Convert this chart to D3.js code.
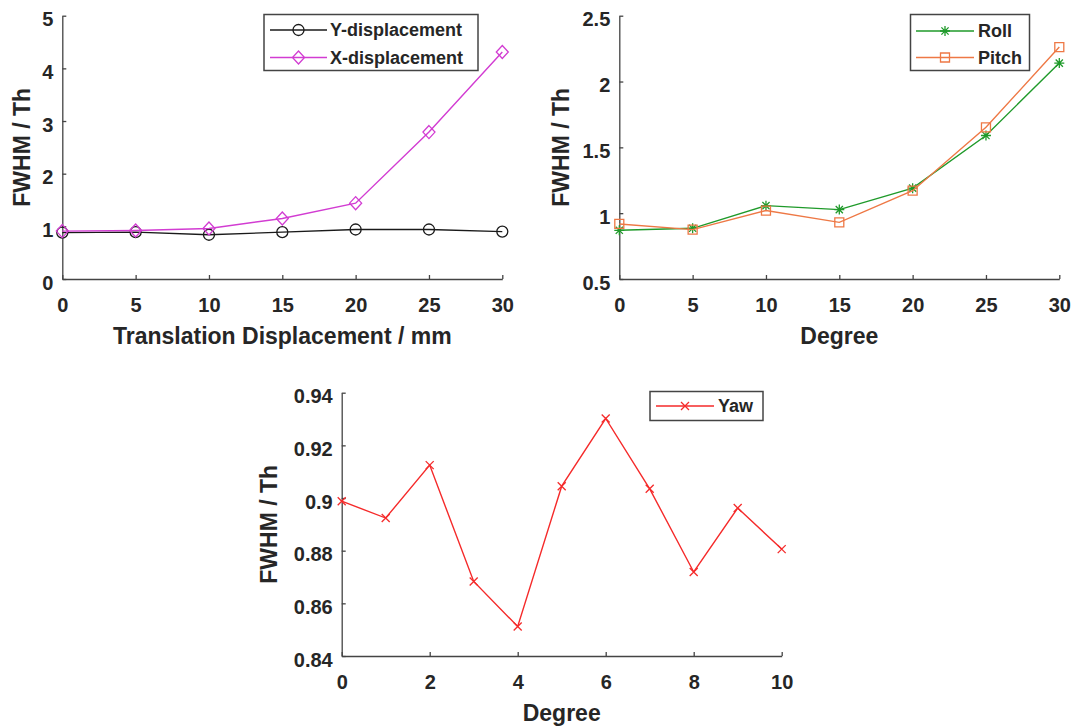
<!DOCTYPE html>
<html>
<head>
<meta charset="utf-8">
<script src="https://cdn.jsdelivr.net/npm/d3@7"></script>
<style>
  html, body { margin: 0; padding: 0; background: #ffffff; }
  svg { display: block; }
  text { font-family: "Liberation Sans", Arial, Helvetica, sans-serif; font-weight: bold; fill: #262626; }
</style>
</head>
<body>
<svg id="chart" width="1073" height="728"></svg>
<script>
// ---------------- Data ----------------
const translationMM = [0, 5, 10, 15, 20, 25, 30];
const yDisplacement = [0.88, 0.89, 0.84, 0.89, 0.94, 0.94, 0.90];
const xDisplacement = [0.91, 0.92, 0.96, 1.15, 1.44, 2.79, 4.31];

const rotationDeg = [0, 5, 10, 15, 20, 25, 30];
const roll  = [0.87, 0.885, 1.057, 1.027, 1.19, 1.59, 2.14];
const pitch = [0.918, 0.875, 1.02, 0.93, 1.171, 1.652, 2.262];

const yawDeg = [0, 1, 2, 3, 4, 5, 6, 7, 8, 9, 10];
const yaw = [0.8988, 0.8924, 0.9125, 0.8683, 0.8512, 0.9045, 0.9302, 0.9035, 0.8719, 0.8962, 0.8806];

const ticksX30 = [0, 5, 10, 15, 20, 25, 30];
const ticksX10 = [0, 2, 4, 6, 8, 10];
const ticksY1 = [0, 1, 2, 3, 4, 5];
const ticksY2 = [0.5, 1, 1.5, 2, 2.5];
const ticksY3 = [0.84, 0.86, 0.88, 0.9, 0.92, 0.94];

// ---------------- Drawing ----------------
const svg = d3.select("#chart");
const AXIS_COLOR = "#444444";

function markerPath(type) {
  switch (type) {
    case "circle":
      return d3.symbol().type(d3.symbolCircle).size(Math.PI * 5.5 * 5.5)();
    case "diamond":
      return `M0,${-6.5}L6,0L0,6.5L-6,0Z`;
    case "square":
      return `M-4.5,-4.5H4.5V4.5H-4.5Z`;
    case "star":
      return `M-5,0H5M0,-5V5M-3.6,-3.6L3.6,3.6M-3.6,3.6L3.6,-3.6`;
    case "x":
      return `M-4,-4L4,4M-4,4L4,-4`;
  }
}

function drawPanel(p) {
  const g = svg.append("g");
  const x = d3.scaleLinear().domain(p.xDomain).range([p.left, p.right]);
  const y = d3.scaleLinear().domain(p.yDomain).range([p.bottom, p.top]);

  // axes
  const xa = g.append("g").attr("transform", `translate(0,${p.bottom})`)
    .call(d3.axisBottom(x).tickValues(p.xTicks).tickFormat(d => String(d))
      .tickSizeInner(-4).tickSizeOuter(0).tickPadding(19));
  const ya = g.append("g").attr("transform", `translate(${p.left},0)`)
    .call(d3.axisLeft(y).tickValues(p.yTicks).tickFormat(d => String(d))
      .tickSizeInner(-4).tickSizeOuter(0).tickPadding(9));
  [xa, ya].forEach(a => {
    a.select(".domain").attr("stroke", AXIS_COLOR).attr("stroke-width", 1.3);
    a.selectAll(".tick line").attr("stroke", AXIS_COLOR).attr("stroke-width", 1.3);
    a.selectAll(".tick text").attr("fill", "#262626")
      .style("font-size", "20px").style("font-weight", "bold")
      .style("font-family", '"Liberation Sans", Arial, sans-serif');
  });
  ya.selectAll(".tick text").attr("dy", "0.5em");

  // axis labels
  g.append("text").attr("x", (p.left + p.right) / 2).attr("y", p.bottom + 57)
    .attr("text-anchor", "middle").attr("dominant-baseline", "central")
    .style("font-size", "23px").text(p.xLabel);
  g.append("text")
    .attr("transform", `translate(${p.yLabelX},${(p.top + p.bottom) / 2}) rotate(-90)`)
    .attr("text-anchor", "middle").attr("dominant-baseline", "central")
    .style("font-size", "23px").text(p.yLabel);

  // series
  const line = d3.line().x(d => x(d[0])).y(d => y(d[1]));
  p.series.forEach(s => {
    const pts = p.xValues.map((v, i) => [v, s.values[i]]);
    g.append("path").datum(pts).attr("d", line)
      .attr("fill", "none").attr("stroke", s.color).attr("stroke-width", 1.4);
    g.selectAll(null).data(pts).enter().append("path")
      .attr("transform", d => `translate(${x(d[0])},${y(d[1])})`)
      .attr("d", markerPath(s.marker))
      .attr("fill", "none").attr("stroke", s.color).attr("stroke-width", 1.3);
  });

  // legend
  const L = p.legend;
  g.append("rect").attr("x", L.x0).attr("y", L.y0)
    .attr("width", L.x1 - L.x0).attr("height", L.y1 - L.y0)
    .attr("fill", "#ffffff").attr("stroke", AXIS_COLOR).attr("stroke-width", 1.5);
  p.series.forEach((s, i) => {
    const ry = L.rows[i];
    g.append("line").attr("x1", L.lineX0).attr("x2", L.lineX1)
      .attr("y1", ry).attr("y2", ry).attr("stroke", s.color).attr("stroke-width", 1.4);
    g.append("path").attr("transform", `translate(${(L.lineX0 + L.lineX1) / 2},${ry})`)
      .attr("d", markerPath(s.marker)).attr("fill", "none")
      .attr("stroke", s.color).attr("stroke-width", 1.3);
    g.append("text").attr("x", L.textX).attr("y", ry)
      .attr("dominant-baseline", "central").style("font-size", "18px").text(s.name);
  });
}

drawPanel({
  left: 62.3, right: 502.3, top: 15.7, bottom: 279,
  xDomain: [0, 30], yDomain: [0, 5], xTicks: ticksX30, yTicks: ticksY1,
  xValues: translationMM,
  xLabel: "Translation Displacement / mm", yLabel: "FWHM / Th", yLabelX: 22,
  series: [
    { name: "Y-displacement", values: yDisplacement, color: "#1a1a1a", marker: "circle" },
    { name: "X-displacement", values: xDisplacement, color: "#d23cd2", marker: "diamond" }
  ],
  legend: { x0: 264, y0: 14.5, x1: 478, y1: 70.5, rows: [30, 57.5], lineX0: 270, lineX1: 327, textX: 330 }
});

drawPanel({
  left: 619.3, right: 1059.3, top: 15.7, bottom: 279,
  xDomain: [0, 30], yDomain: [0.5, 2.5], xTicks: ticksX30, yTicks: ticksY2,
  xValues: rotationDeg,
  xLabel: "Degree", yLabel: "FWHM / Th", yLabelX: 561,
  series: [
    { name: "Roll", values: roll, color: "#1f9a2a", marker: "star" },
    { name: "Pitch", values: pitch, color: "#ee7845", marker: "square" }
  ],
  legend: { x0: 910.5, y0: 14.5, x1: 1029.5, y1: 70.5, rows: [31, 57.5], lineX0: 916, lineX1: 974, textX: 978 }
});

drawPanel({
  left: 341.7, right: 781.7, top: 392.7, bottom: 656,
  xDomain: [0, 10], yDomain: [0.84, 0.94], xTicks: ticksX10, yTicks: ticksY3,
  xValues: yawDeg,
  xLabel: "Degree", yLabel: "FWHM / Th", yLabelX: 269,
  series: [
    { name: "Yaw", values: yaw, color: "#f52a2a", marker: "x" }
  ],
  legend: { x0: 650, y0: 391.5, x1: 763, y1: 420.5, rows: [406], lineX0: 656, lineX1: 714, textX: 718 }
});
</script>
</body>
</html>
